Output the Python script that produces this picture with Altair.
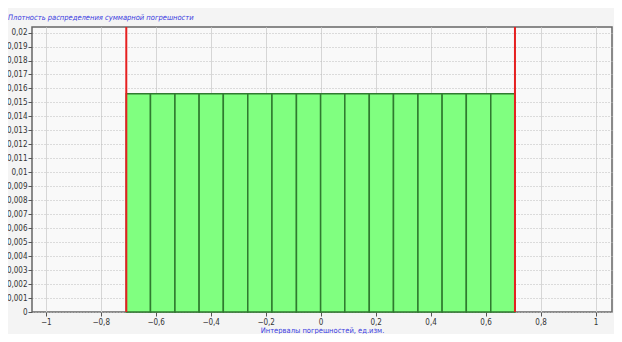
import altair as alt
import pandas as pd

# bin edges of the histogram
bin_left = [-0.707, -0.619, -0.530, -0.442, -0.354, -0.265, -0.177, -0.088,
            0.000, 0.088, 0.177, 0.265, 0.354, 0.442, 0.530, 0.619]
bin_right = [-0.619, -0.530, -0.442, -0.354, -0.265, -0.177, -0.088, 0.000,
             0.088, 0.177, 0.265, 0.354, 0.442, 0.530, 0.619, 0.707]
density = [0.015625] * 16
bounds = [-0.707, 0.707]
x_ticks = [-1, -0.8, -0.6, -0.4, -0.2, 0, 0.2, 0.4, 0.6, 0.8, 1]
y_ticks = [0, 0.001, 0.002, 0.003, 0.004, 0.005, 0.006, 0.007, 0.008, 0.009, 0.01,
           0.011, 0.012, 0.013, 0.014, 0.015, 0.016, 0.017, 0.018, 0.019, 0.02]

bars_df = pd.DataFrame({"x0": bin_left, "x1": bin_right, "d": density})
bounds_df = pd.DataFrame({"b": bounds})

xscale = alt.Scale(domain=[-1.05, 1.06], nice=False, zero=False)
yscale = alt.Scale(domain=[0, 0.0204], nice=False)

lab = "replace(format(datum.value, ''), '.', ',')"

bars = alt.Chart(bars_df).mark_bar(
    fill="#80ff80", stroke="#2f7a2f", strokeWidth=1.5
).encode(
    x=alt.X("x0:Q", scale=xscale,
            axis=alt.Axis(values=x_ticks, labelExpr=lab,
                          title="Интервалы погрешностей, ед.изм.",
                          titleColor="#3a3ae0", titleFontSize=7.5, titleFontWeight="normal",
                          titleFont="DejaVu Sans Condensed", titlePadding=0,
                          labelFont="DejaVu Sans Condensed", labelFontSize=8, labelColor="#333333",
                          tickColor="#555555", tickSize=4, labelPadding=2,
                          grid=True, gridColor="#d6d6d6", gridWidth=1,
                          domain=False)),
    x2="x1:Q",
    y=alt.Y("d:Q", scale=yscale,
            axis=alt.Axis(values=y_ticks, labelExpr=lab,
                          title=None,
                          labelFont="DejaVu Sans Condensed", labelFontSize=8, labelColor="#333333",
                          tickColor="#555555", tickSize=4, labelPadding=1,
                          grid=True, gridColor="#bdbdbd", gridDash=[1, 2], gridWidth=1,
                          domain=False)),
    y2=alt.datum(0),
)

rules = alt.Chart(bounds_df).mark_rule(color="#e62020", strokeWidth=2).encode(
    x=alt.X("b:Q", scale=xscale)
)

chart = alt.layer(bars, rules).properties(
    width=580, height=285,
    padding={"left": 24, "top": 19, "right": 2, "bottom": 22},
    autosize=alt.AutoSizeParams(type="none"),
    background="#f4f4f4",
    title=alt.TitleParams(
        "Плотность распределения суммарной погрешности",
        anchor="start", frame="group", dx=-24, offset=5, fontSize=7.5, fontStyle="italic",
        fontWeight="normal", color="#3a3ae0", font="DejaVu Sans Condensed",
    ),
).configure_view(
    fill="#f9f9f9", stroke="#666666", strokeWidth=1.5
)

chart.save("out.html", embed_options={"renderer": "svg", "actions": False})
